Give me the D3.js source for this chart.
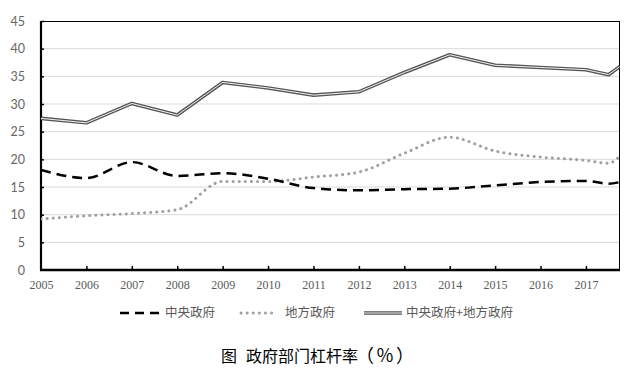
<!DOCTYPE html>
<html>
<head>
<meta charset="utf-8">
<script src="https://cdn.jsdelivr.net/npm/d3@7"></script>
<style>
body { margin: 0; background: #fff; }
svg { display: block; }
</style>
</head>
<body>
<svg id="chart" width="639" height="373"></svg>
<script>
// data
var years = [2005, 2006, 2007, 2008, 2009, 2010, 2011, 2012, 2013, 2014, 2015, 2016, 2017, 2017.5, 2017.75]
var central = [18.1, 16.6, 19.5, 17.0, 17.5, 16.5, 14.8, 14.4, 14.6, 14.7, 15.3, 15.9, 16.1, 15.6, 15.9]
var local = [9.2, 9.8, 10.2, 10.9, 16.0, 16.0, 16.8, 17.7, 21.1, 24.0, 21.5, 20.4, 19.8, 19.3, 20.6]
var total = [27.4, 26.6, 30.1, 28.0, 33.9, 32.9, 31.6, 32.2, 35.7, 38.9, 37.0, 36.6, 36.2, 35.3, 36.8]
var xTicks = [2005, 2006, 2007, 2008, 2009, 2010, 2011, 2012, 2013, 2014, 2015, 2016, 2017]
var yTicks = [0, 5, 10, 15, 20, 25, 30, 35, 40, 45]
var legendNames = ["中央政府", "地方政府", "中央政府+地方政府"]
var titleHead = "图"
var titleText = "政府部门杠杆率"
var titleUnit = "（％）"

var svg = d3.select("#chart")
var margin = {top: 21, left: 41, right: 19, bottom: 103}
var width = 639 - margin.left - margin.right
var height = 373 - margin.top - margin.bottom

var g = svg.append("g")
  .attr("transform", "translate(" + margin.left + "," + margin.top + ")")

var xScale = d3.scaleLinear().domain([2005, 2017.75]).range([0, width])
var yScale = d3.scaleLinear().domain([0, 45]).range([height, 0])

// gridlines
g.append("g")
  .selectAll("line")
  .data(yTicks.filter(function(d) { return d > 0 && d < 45 }))
  .enter().append("line")
    .attr("x1", 0).attr("x2", width)
    .attr("y1", function(d) { return yScale(d) })
    .attr("y2", function(d) { return yScale(d) })
    .attr("stroke", "#d9d9d9")
    .attr("stroke-width", 1)

// frame top / right
g.append("line").attr("x1", 0).attr("x2", width).attr("y1", 0.5).attr("y2", 0.5)
  .attr("stroke", "#000").attr("stroke-width", 1)
g.append("line").attr("x1", width - 0.5).attr("x2", width - 0.5).attr("y1", 0).attr("y2", height)
  .attr("stroke", "#000").attr("stroke-width", 1)

var yAxisCall = d3.axisLeft(yScale).tickValues(yTicks).tickSize(-3).tickPadding(16)
var xAxisCall = d3.axisBottom(xScale).tickValues(xTicks).tickSize(-4).tickPadding(10)
  .tickFormat(d3.format("d"))

var yAxis = g.append("g").attr("class", "y axis").call(yAxisCall)
var xAxis = g.append("g").attr("class", "x axis")
  .attr("transform", "translate(0," + height + ")")
  .call(xAxisCall)

yAxis.select(".domain").attr("stroke", "#000").attr("stroke-width", 2.2).attr("d", "M0,0V" + height)
xAxis.select(".domain").attr("stroke", "#000").attr("stroke-width", 2.5).attr("d", "M-1,0H" + width)
yAxis.selectAll(".tick line").attr("stroke", "#000").attr("stroke-width", 1.5)
xAxis.selectAll(".tick line").attr("stroke", "#000").attr("stroke-width", 1.5)
yAxis.selectAll("text")
  .attr("fill", "#666").attr("font-family", "Lato, 'Open Sans', sans-serif").attr("font-size", "12.5px")
  .attr("text-anchor", "end")
yAxis.selectAll(".tick").filter(function(d) { return d == 0 }).select("line").remove()
xAxis.selectAll("text")
  .attr("fill", "#595959").attr("font-family", "'Liberation Serif', serif").attr("font-size", "12px")
xAxis.selectAll(".tick").filter(function(d) { return d == 2005 }).select("line").remove()

function series(vals) {
  return years.map(function(y, i) { return {x: y, v: vals[i]} })
}

var smooth = d3.line()
  .x(function(d) { return xScale(d.x) })
  .y(function(d) { return yScale(d.v) })
  .curve(d3.curveMonotoneX)

var straight = d3.line()
  .x(function(d) { return xScale(d.x) })
  .y(function(d) { return yScale(d.v) })

svg.append("clipPath").attr("id", "plotclip")
  .append("rect").attr("x", 0).attr("y", -3).attr("width", width - 0.5).attr("height", height + 3)

var lines = g.append("g").attr("clip-path", "url(#plotclip)")

lines.append("path")
  .datum(series(local))
  .attr("fill", "none")
  .attr("stroke", "#a0a0a0")
  .attr("stroke-width", 3)
  .attr("stroke-linecap", "round")
  .attr("stroke-dasharray", "0.1,6")
  .attr("d", smooth)

lines.append("path")
  .datum(series(central))
  .attr("fill", "none")
  .attr("stroke", "#000")
  .attr("stroke-width", 2.5)
  .attr("stroke-dasharray", "10,6")
  .attr("d", smooth)

lines.append("path")
  .datum(series(total))
  .attr("fill", "none")
  .attr("stroke", "#555")
  .attr("stroke-width", 3.6)
  .attr("stroke-linejoin", "round")
  .attr("d", straight)
lines.append("path")
  .datum(series(total))
  .attr("fill", "none")
  .attr("stroke", "#f4f4f4")
  .attr("stroke-width", 1)
  .attr("stroke-linejoin", "round")
  .attr("d", straight)

// legend
var legend = svg.append("g").attr("transform", "translate(0,313)")
legend.append("line").attr("x1", 120).attr("x2", 160).attr("y1", 0).attr("y2", 0)
  .attr("stroke", "#000").attr("stroke-width", 2.5).attr("stroke-dasharray", "9,6")
legend.append("line").attr("x1", 241).attr("x2", 274).attr("y1", 0).attr("y2", 0)
  .attr("stroke", "#a0a0a0").attr("stroke-width", 3).attr("stroke-linecap", "round")
  .attr("stroke-dasharray", "0.1,6")
legend.append("line").attr("x1", 364).attr("x2", 402).attr("y1", 0).attr("y2", 0)
  .attr("stroke", "#555").attr("stroke-width", 3.6)
legend.append("line").attr("x1", 364).attr("x2", 402).attr("y1", 0).attr("y2", 0)
  .attr("stroke", "#f4f4f4").attr("stroke-width", 1)

var legendX = [165, 285, 406]
legend.selectAll("text.leg")
  .data(legendNames)
  .enter().append("text")
    .attr("class", "leg")
    .attr("x", function(d, i) { return legendX[i] })
    .attr("y", 0)
    .attr("dy", "0.35em")
    .attr("fill", "#595959")
    .attr("font-family", "'Noto Sans CJK SC', sans-serif")
    .attr("font-size", "12.5px")
    .text(function(d) { return d })

// title, in pieces to match the spacing
var titleParts = [
  {t: titleHead, x: 221, ls: 0, fs: 16},
  {t: titleText, x: 246, ls: 0, fs: 16},
  {t: titleUnit, x: 356, ls: 2, fs: 18}
]
svg.selectAll("text.title")
  .data(titleParts)
  .enter().append("text")
    .attr("class", "title")
    .attr("x", function(d) { return d.x })
    .attr("y", 356)
    .attr("dy", "0.35em")
    .attr("fill", "#000")
    .attr("font-family", "'Noto Sans CJK SC', sans-serif")
    .attr("font-size", function(d) { return d.fs + "px" })
    .attr("letter-spacing", function(d) { return d.ls })
    .text(function(d) { return d.t })
</script>
</body>
</html>
